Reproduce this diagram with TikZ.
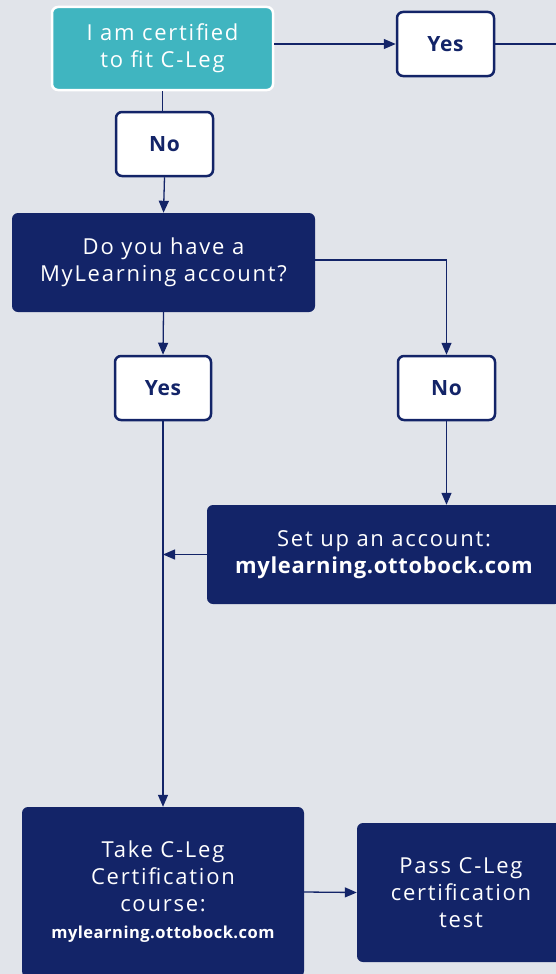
\documentclass[tikz,border=0pt]{standalone}
\usepackage{fontspec}
\setmainfont{Open Sans}[LetterSpace=8]
\newfontfamily\urlfont{Open Sans}[LetterSpace=3]
\usetikzlibrary{arrows.meta}
\definecolor{pagebg}{RGB}{225,228,234}
\definecolor{navy}{RGB}{19,36,104}
\definecolor{teal}{RGB}{64,181,192}
\tikzset{
  answer/.style={rectangle,draw=navy,line width=2.5pt,fill=white,rounded corners=6pt,
    minimum width=97pt,minimum height=64pt,text=navy,font=\fontsize{21}{24}\urlfont\bfseries},
  darkbox/.style={rectangle,fill=navy,rounded corners=6pt,text=white,align=center,
    font=\fontsize{22}{27}\selectfont},
  link/.style={draw=navy,line width=1.3pt},
  flow/.style={link,-{Triangle[length=12pt,width=10pt]}}
}
\begin{document}
\begin{tikzpicture}[x=1pt,y=-1pt]
  \fill[pagebg] (0,0) rectangle (556,974);
  \clip (0,0) rectangle (556,974);
  % boxes
  \node (Certified) [rectangle,fill=teal,draw=white,line width=2.5pt,rounded corners=6pt,
    minimum width=221pt,minimum height=83pt,text=white,align=center,
    font=\fontsize{22}{27}\selectfont] at (162.5,48.5) {I am certified\\to fit C-Leg};
  \node (YesTop) [answer] at (445.5,44) {Yes};
  \node (NoTop) [answer] at (164.5,144) {No};
  \node (Account) [darkbox,minimum width=303pt,minimum height=99pt] at (163.5,262.5)
    {Do you have a\\MyLearning account?};
  \node (YesAcc) [answer,minimum width=96pt] at (163,388) {Yes};
  \node (NoAcc) [answer] at (446.5,388) {No};
  \node (SetUp) [darkbox,minimum width=354pt,minimum height=99pt] at (384,554.5)
    {Set up an account:\\{\fontsize{22}{27}\urlfont\bfseries mylearning.ottobock.com}};
  \node (Course) [darkbox,minimum width=282pt,minimum height=170pt] at (163,892)
    {Take C-Leg\\Certification\\course:\\{\fontsize{16.5}{27}\urlfont\bfseries mylearning.ottobock.com}};
  \node (PassTest) [darkbox,minimum width=208pt,minimum height=139pt] at (461,892.5)
    {Pass C-Leg\\certification\\test};
  \coordinate (YesEnd) at (556,44);
  % connectors
  \draw[flow] (Certified.east |- YesTop.west) -- (YesTop.west);
  \draw[link] (YesTop.east) -- (YesEnd);
  \draw[link] (Certified.south) -- (NoTop.north -| Certified.south);
  \draw[flow] (NoTop.south) -- (Account.north);
  \draw[flow] ([yshift=2.5pt]Account.east) -| (NoAcc.north);
  \draw[flow] (Account.south) -- (YesAcc.north);
  \draw[flow] (NoAcc.south) -- (NoAcc.south |- SetUp.north);
  \draw[flow] (YesAcc.south) -- (Course.north);
  \draw[flow] (SetUp.west) -- (YesAcc.south |- SetUp.west);
  \draw[flow] (Course.east) -- (PassTest.west);
\end{tikzpicture}
\end{document}
